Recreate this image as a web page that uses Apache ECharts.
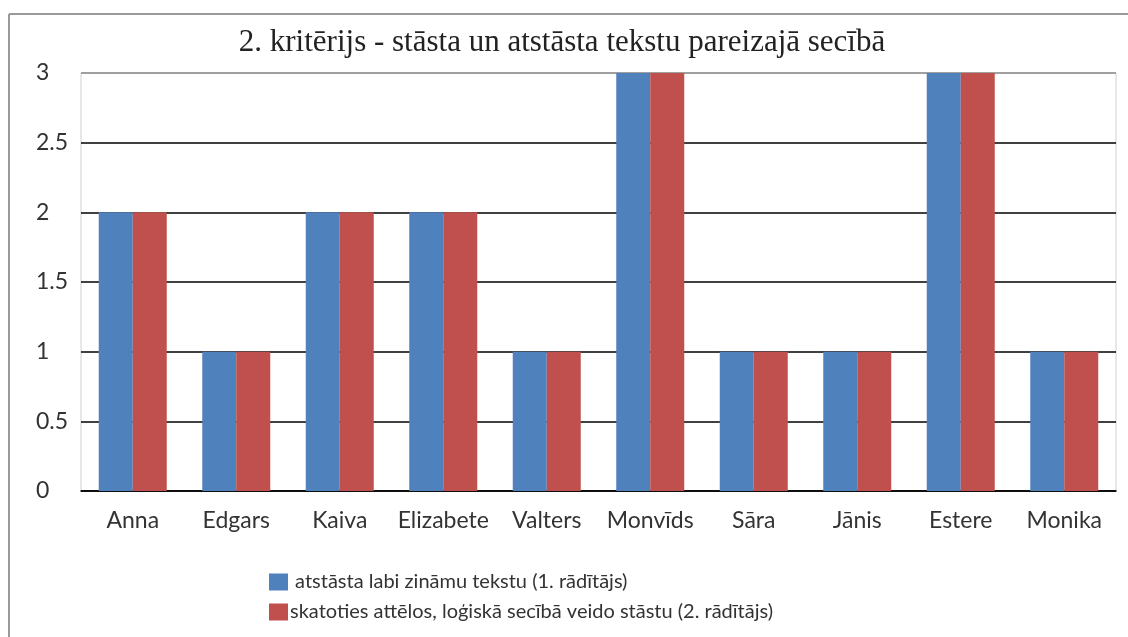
<!DOCTYPE html>
<html>
<head>
<meta charset="utf-8">
<script src="https://cdn.jsdelivr.net/npm/echarts@6/dist/echarts.min.js"></script>
<style>
  html, body { margin: 0; padding: 0; background: #fff; }
  #chart { width: 1128px; height: 637px; }
</style>
</head>
<body>
<div id="chart"></div>
<script>
// dati no attēla
var titleText = "2. kritērijs - stāsta un atstāsta tekstu pareizajā secībā"
var names = ["Anna", "Edgars", "Kaiva", "Elizabete", "Valters", "Monvīds", "Sāra", "Jānis", "Estere", "Monika"]
var seriesNames = [
  "atstāsta labi zināmu tekstu (1. rādītājs)",
  "skatoties attēlos, loģiskā secībā veido stāstu (2. rādītājs)"
]
var values1 = [2, 1, 2, 2, 1, 3, 1, 1, 3, 1]
var values2 = [2, 1, 2, 2, 1, 3, 1, 1, 3, 1]

var textFont = "Lato"
var chart = echarts.init(document.getElementById("chart"))

var option = {
  animation: false,
  backgroundColor: "#fff",
  title: {
    text: titleText,
    left: 557,
    textAlign: "center",
    top: 22,
    textStyle: { fontFamily: "Liberation Serif", fontSize: 31, fontWeight: "normal", color: "#222" }
  },
  // rāmis ap diagrammu
  graphic: [
    { type: "line", shape: { x1: 9, y1: 14, x2: 1128, y2: 14 }, style: { stroke: "#999", lineWidth: 2 } },
    { type: "line", shape: { x1: 9, y1: 14, x2: 9, y2: 637 }, style: { stroke: "#999", lineWidth: 2 } }
  ],
  legend: {
    orient: "vertical",
    left: 264,
    top: 567,
    itemWidth: 19,
    itemHeight: 17,
    itemGap: 10,
    icon: "rect",
    formatter: function (n) { return n === seriesNames[0] ? " " + n : n },
    textStyle: { fontFamily: textFont, fontSize: 20, color: "#333", padding: [0, 0, 0, -3] },
    data: seriesNames
  },
  grid: {
    left: 81, right: 12, top: 73, bottom: 146,
    show: true, borderColor: "#d0d0d0", borderWidth: 1
  },
  xAxis: {
    type: "category",
    data: names,
    axisTick: { show: false },
    axisLine: { lineStyle: { color: "#000", width: 1.5 } },
    axisLabel: { fontFamily: textFont, fontSize: 23, color: "#333", margin: 18, interval: 0 }
  },
  yAxis: {
    type: "value",
    min: 0, max: 3, interval: 0.5,
    axisLine: { show: false },
    axisTick: { show: false },
    axisLabel: { fontFamily: textFont, fontSize: 23, color: "#333", align: "left", margin: 45 },
    splitLine: { lineStyle: { color: ["#000", "#000", "#000", "#000", "#000", "#000", "#888"], width: 1.5 } }
  },
  series: [
    { name: seriesNames[0], type: "bar", data: values1, barWidth: 34, barGap: "0%", itemStyle: { color: "#4F81BD" } },
    { name: seriesNames[1], type: "bar", data: values2, barWidth: 34, barGap: "0%", itemStyle: { color: "#C0504D" } }
  ]
}
chart.setOption(option)
</script>
</body>
</html>
